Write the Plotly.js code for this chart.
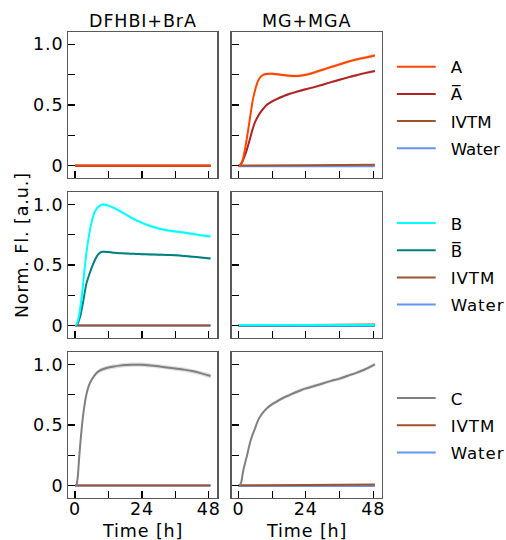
<!DOCTYPE html>
<html>
<head>
<meta charset="utf-8">
<script src="https://cdn.plot.ly/plotly-3.0.1.min.js"></script>
<style>
  html, body { margin: 0; padding: 0; background: #ffffff; overflow: hidden; }
  #chart { width: 506px; height: 540px; }
  /* slightly open letter spacing for titles and tick labels */
  svg text { letter-spacing: 0.9px; }
  svg text.legendtext { letter-spacing: 0; }
</style>
</head>
<body>
<div id="chart"></div>
<script>
// ---------------------------------------------------------------
// Kinetic traces, normalised fluorescence vs. time (hours)
// ---------------------------------------------------------------
const hours = [0, 0.5, 1, 1.5, 2, 2.5, 3, 4, 5, 6, 7, 8, 9, 10, 12, 14, 16, 18, 20, 22, 24, 27, 30, 33, 36, 39, 42, 45, 48.6];
// controls and non-responding constructs stay flat, a few samples are enough
const flatHours = [0, 24, 48.6];

// MG+MGA channel
const aMG     = [0, 0.005, 0.02, 0.05, 0.1, 0.16, 0.23, 0.38, 0.53, 0.63, 0.70, 0.735, 0.75, 0.755, 0.756, 0.752, 0.746, 0.741, 0.738, 0.74, 0.748, 0.767, 0.79, 0.812, 0.834, 0.856, 0.874, 0.889, 0.906];
const aBarMG  = [0, 0.005, 0.02, 0.04, 0.07, 0.1, 0.135, 0.215, 0.30, 0.365, 0.41, 0.445, 0.475, 0.50, 0.53, 0.553, 0.572, 0.59, 0.604, 0.617, 0.63, 0.647, 0.667, 0.688, 0.707, 0.727, 0.745, 0.762, 0.78];
const cMG     = [0, 0.005, 0.03, 0.1, 0.155, 0.2, 0.245, 0.345, 0.42, 0.48, 0.54, 0.58, 0.61, 0.635, 0.672, 0.70, 0.725, 0.745, 0.766, 0.785, 0.802, 0.822, 0.843, 0.864, 0.883, 0.907, 0.93, 0.958, 1.0];
const bMG     = [0.004, 0.004, 0.005];
const bBarMG  = [0.002, 0.002, 0.002];
const ivtmMG  = [0.002, 0.004, 0.008];
const waterMG = [-0.004, -0.004, -0.004];

// DFHBI+BrA channel
const bDF     = [0, 0.01, 0.04, 0.09, 0.17, 0.26, 0.37, 0.59, 0.745, 0.86, 0.935, 0.972, 0.99, 0.999, 0.99, 0.97, 0.946, 0.92, 0.893, 0.868, 0.848, 0.822, 0.802, 0.787, 0.777, 0.768, 0.757, 0.746, 0.735];
const bBarDF  = [0, 0.005, 0.02, 0.05, 0.09, 0.15, 0.21, 0.34, 0.415, 0.48, 0.535, 0.58, 0.603, 0.609, 0.607, 0.602, 0.598, 0.595, 0.593, 0.591, 0.589, 0.587, 0.585, 0.583, 0.58, 0.575, 0.569, 0.562, 0.554];
const cDF     = [0, 0.005, 0.08, 0.24, 0.38, 0.50, 0.60, 0.745, 0.83, 0.875, 0.91, 0.935, 0.95, 0.96, 0.974, 0.983, 0.99, 0.995, 0.997, 0.998, 0.997, 0.992, 0.984, 0.975, 0.966, 0.957, 0.945, 0.928, 0.904];
const aDF     = [0.001, 0.001, 0.001];
const aBarDF  = [0, 0, 0];
const ivtmDF  = [0.001, 0.001, 0.001];
const waterDF = [0, 0, 0];

// replicate spread (half-width of the shaded band)
const sdA = 0.012, sdABar = 0.01, sdB = 0.012, sdBBar = 0.008, sdCDF = 0.018, sdCMG = 0.014;

// labels
const columnTitles = ['DFHBI+BrA', 'MG+MGA'];
const labelA = 'A', labelABar = 'A\u0305';
const labelB = 'B', labelBBar = 'B\u0305';
const labelC = 'C', labelIVTM = 'IVTM', labelWater = 'Water';
const yTickVals = [0, 0.25, 0.5, 0.75, 1];
const yTickText = ['0', '', '0.5', '', '1.0'];
const xTickVals = [0, 12, 24, 36, 48];
const xTickText = ['0', '', '24', '', '48'];

// colours
const colA = '#FF4500', colABar = '#B22222', colIVTM = '#A0522D', colWater = '#6495ED';
const colB = '#00FFFF', colBBar = '#008080', colC = '#808080';

// ---------------------------------------------------------------
const W = 506, H = 540;
const FONT = { family: 'DejaVu Sans, sans-serif', size: 17.5, color: '#000000' };
const LEGEND_FONT = { family: 'DejaVu Sans, sans-serif', size: 16.67, color: '#000000' };
const colPx = [[68.3, 217.3], [231.7, 381.7]];
const rowPx = [[32, 178], [192.3, 337.7], [352.3, 497.7]];

function rgba(hex, a) {
  const n = parseInt(hex.slice(1), 16);
  return 'rgba(' + (n >> 16 & 255) + ',' + (n >> 8 & 255) + ',' + (n & 255) + ',' + a + ')';
}

const traces = [];

// one subplot: bands first, then lines drawn so the first-listed series ends on top
function addPanel(idx, series, legendId, showLegend) {
  const xa = 'x' + (idx === 1 ? '' : idx);
  const ya = 'y' + (idx === 1 ? '' : idx);
  series.forEach(s => {
    if (!s.sd) return;
    const upper = s.y.map(v => v + s.sd);
    const lower = s.y.map(v => v - s.sd).reverse();
    traces.push({
      x: s.x.concat(s.x.slice().reverse()), y: upper.concat(lower),
      xaxis: xa, yaxis: ya, mode: 'lines', fill: 'toself',
      fillcolor: rgba(s.color, 0.25), line: { width: 0, shape: 'spline', smoothing: 0.5 },
      hoverinfo: 'skip', showlegend: false
    });
  });
  series.slice().reverse().forEach(s => {
    const rank = series.indexOf(s) + 1;
    traces.push({
      x: s.x, y: s.y, xaxis: xa, yaxis: ya, name: s.name, mode: 'lines',
      line: { color: s.color, width: 2, shape: 'spline', smoothing: 0.5 },
      legend: legendId, legendgroup: legendId + '_' + rank, legendrank: rank,
      showlegend: showLegend
    });
  });
}

// row 1: construct A
addPanel(1, [
  { name: labelA, color: colA, x: flatHours, y: aDF },
  { name: labelABar, color: colABar, x: flatHours, y: aBarDF },
  { name: labelIVTM, color: colIVTM, x: flatHours, y: ivtmDF },
  { name: labelWater, color: colWater, x: flatHours, y: waterDF }
], 'legend', true);
addPanel(2, [
  { name: labelA, color: colA, x: hours, y: aMG, sd: sdA },
  { name: labelABar, color: colABar, x: hours, y: aBarMG, sd: sdABar },
  { name: labelIVTM, color: colIVTM, x: flatHours, y: ivtmMG },
  { name: labelWater, color: colWater, x: flatHours, y: waterMG }
], 'legend', false);

// row 2: construct B
addPanel(3, [
  { name: labelB, color: colB, x: hours, y: bDF, sd: sdB },
  { name: labelBBar, color: colBBar, x: hours, y: bBarDF, sd: sdBBar },
  { name: labelIVTM, color: colIVTM, x: flatHours, y: ivtmDF },
  { name: labelWater, color: colWater, x: flatHours, y: waterDF }
], 'legend2', true);
addPanel(4, [
  { name: labelB, color: colB, x: flatHours, y: bMG },
  { name: labelBBar, color: colBBar, x: flatHours, y: bBarMG },
  { name: labelIVTM, color: colIVTM, x: flatHours, y: ivtmMG },
  { name: labelWater, color: colWater, x: flatHours, y: waterMG }
], 'legend2', false);

// row 3: construct C
addPanel(5, [
  { name: labelC, color: colC, x: hours, y: cDF, sd: sdCDF },
  { name: labelIVTM, color: colIVTM, x: flatHours, y: ivtmDF },
  { name: labelWater, color: colWater, x: flatHours, y: waterDF }
], 'legend3', true);
addPanel(6, [
  { name: labelC, color: colC, x: hours, y: cMG, sd: sdCMG },
  { name: labelIVTM, color: colIVTM, x: flatHours, y: ivtmMG },
  { name: labelWater, color: colWater, x: flatHours, y: waterMG }
], 'legend3', false);

const layout = {
  width: W, height: H,
  margin: { l: 0, r: 0, t: 0, b: 0 },
  paper_bgcolor: '#ffffff', plot_bgcolor: '#ffffff',
  font: FONT,
  annotations: [],
  showlegend: true
};

for (let r = 0; r < 3; r++) {
  for (let c = 0; c < 2; c++) {
    const idx = r * 2 + c + 1;
    const sfx = idx === 1 ? '' : idx;
    const common = {
      showline: true, mirror: true, linecolor: '#5a5a5a', linewidth: 1.3,
      ticks: 'inside', ticklen: 7, tickwidth: 1.2, tickcolor: '#000000',
      showgrid: false, zeroline: false, tickfont: FONT, fixedrange: true
    };
    layout['xaxis' + sfx] = Object.assign({}, common, {
      domain: [colPx[c][0] / W, colPx[c][1] / W],
      anchor: 'y' + sfx, range: [-2.43, 51.03],
      tickmode: 'array', tickvals: xTickVals, ticktext: xTickText,
      showticklabels: r === 2, ticklabelstandoff: -5
    });
    layout['yaxis' + sfx] = Object.assign({}, common, {
      domain: [1 - rowPx[r][1] / H, 1 - rowPx[r][0] / H],
      anchor: 'x' + sfx, range: [-0.1, 1.1],
      tickmode: 'array', tickvals: yTickVals, ticktext: yTickText,
      showticklabels: c === 0
    });
  }
}

// column titles and time labels
columnTitles.forEach((t, c) => {
  layout.annotations.push({
    text: t, xref: 'paper', yref: 'paper', showarrow: false,
    x: (colPx[c][0] + colPx[c][1]) / 2 / W, y: 1 - 20.5 / H,
    xanchor: 'center', yanchor: 'middle', font: FONT
  });
  layout.annotations.push({
    text: 'Time [h]', xref: 'paper', yref: 'paper', showarrow: false,
    x: (colPx[c][0] + colPx[c][1]) / 2 / W, y: 1 - 530.5 / H,
    xanchor: 'center', yanchor: 'middle', font: FONT
  });
});
layout.annotations.push({
  text: 'Norm. Fl. [a.u.]', xref: 'paper', yref: 'paper', showarrow: false,
  x: 22 / W, y: 1 - 245 / H, textangle: -90,
  xanchor: 'center', yanchor: 'middle', font: FONT
});

// one legend per row, to the right of the panels
const legendCommon = {
  xanchor: 'left', yanchor: 'top', font: LEGEND_FONT, bgcolor: 'rgba(0,0,0,0)',
  borderwidth: 0, itemwidth: 44, traceorder: 'grouped', tracegroupgap: 2.5,
  itemclick: false, itemdoubleclick: false
};
layout.legend  = Object.assign({}, legendCommon, { x: 396.7 / W, y: 1 - 49.4 / H });
layout.legend2 = Object.assign({}, legendCommon, { x: 396.7 / W, y: 1 - 205.7 / H });
layout.legend3 = Object.assign({}, legendCommon, { x: 396.7 / W, y: 1 - 380.7 / H });

Plotly.newPlot('chart', traces, layout, { displayModeBar: false, staticPlot: true }).then(gd => {
  // longer key lines in the legends
  gd.querySelectorAll('.legendlines path').forEach(p => p.setAttribute('d', 'M0,0h39'));
});
</script>
</body>
</html>
